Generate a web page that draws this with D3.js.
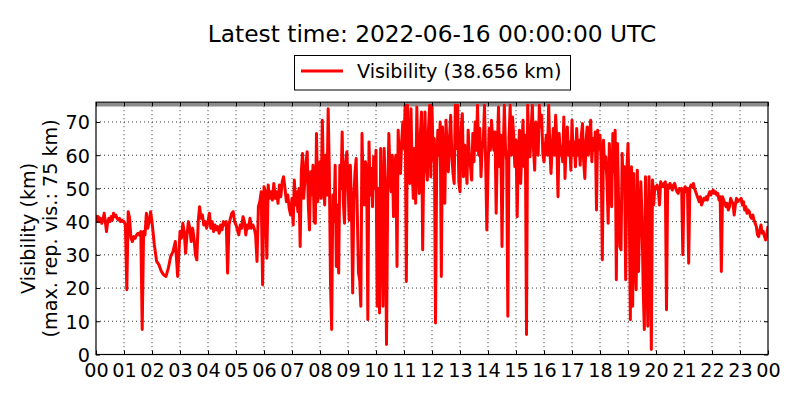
<!DOCTYPE html>
<html>
<head>
<meta charset="utf-8">
<script src="https://cdn.jsdelivr.net/npm/d3@7/dist/d3.min.js"></script>
<style>
	html, body { margin: 0; padding: 0; background: #fff; }
	svg { display: block; font-family: "DejaVu Sans", sans-serif; }
</style>
</head>
<body>
<div id="chart"></div>
<script>
// ---------------------------------------------------------------
// Data
// ---------------------------------------------------------------

const titleText = "Latest time: 2022-06-16 00:00:00 UTC";
const seriesName = "Visibility";
const latestVis = 38.656; // km, value at 24:00
const maxRepVis = 75; // km
const yTicks = [0, 10, 20, 30, 40, 50, 60, 70];
const hourTicks = d3.range(0, 25); // 00 .. 23, 00

// Visibility (km), one list per hour, samples evenly spaced within the hour
const visibilityByHour = [
	/* 00 */ [42, 40, 41.5, 40, 41, 39.5, 40.5, 42.5, 40, 37, 40, 41, 40, 41.5, 40.5, 42.5, 41.5, 42, 41, 40.5, 41, 40, 40.5, 40],
	/* 01 */ [40, 39, 19.5, 43, 41, 35, 34, 35.5, 35, 36, 36.5, 36, 37, 7.5, 37, 36, 42.5, 38, 40, 43],
	/* 02 */ [40, 33, 28, 27, 25, 24, 23.5, 26, 29.5, 31, 34, 23.5],
	/* 03 */ [37, 35, 39.5, 37, 30.5, 36, 40, 38, 34, 38, 35, 30, 28.5, 40, 44.5, 41, 42, 39, 40, 38],
	/* 04 */ [40, 42.5, 38, 40, 37, 39, 37.5, 38.5, 36.5, 39, 37.5, 40, 39, 40, 24.5, 39, 41, 42.5, 43, 40],
	/* 05 */ [39, 37.5, 36, 39, 38, 41.5, 40, 36, 39, 38, 41, 38, 39, 38, 36, 28, 44.5, 46, 49, 21],
	/* 06 */ [50.5, 49, 29, 51, 47, 49, 46.5, 51.5, 47, 49, 45.5, 51, 47.5, 52, 53.5, 50, 46, 48, 44, 42],
	/* 07 */ [47, 39, 52.5, 45, 49, 43, 50, 32.5, 55, 60.5, 47, 52, 58, 61, 45, 37.5, 55, 48, 57, 40, 39.5, 66.5, 46, 50],
	/* 08 */ [58, 47, 70.5, 52, 45, 60, 48, 74, 55, 21.5, 7.5, 48, 40, 57, 26.5, 45, 24.5, 57, 50, 67, 46, 39.5, 58, 61],
	/* 09 */ [52, 40.5, 57, 44, 18.5, 47, 55, 59, 42, 24.5, 22.5, 14.5, 66.5, 50, 45, 58, 55, 10.5, 64, 48, 56, 44.5, 59.5, 50],
	/* 10 */ [61.5, 14.5, 50, 12.5, 62, 45, 14.5, 62, 48, 3, 47, 66.5, 55, 49, 60, 41.5, 56.5, 60, 26.5, 67.5, 58, 54.5, 64, 70],
	/* 11 */ [62, 75, 22, 75, 60, 51.5, 74, 55, 47, 62, 45.5, 74.5, 58, 48.5, 66, 73, 31.5, 60, 73, 57, 52.5, 68, 75, 53.5],
	/* 12 */ [75, 58.5, 65, 9.5, 56, 67.5, 60, 70, 23.5, 68.5, 58, 45.5, 70.5, 62, 55, 65, 72, 60, 54.5, 51.5, 75, 62, 75, 52],
	/* 13 */ [49, 68, 72.5, 53.5, 63, 58, 51.5, 67.5, 60, 56.5, 52.5, 66.5, 58, 70, 61.5, 75, 60, 68, 53.5, 62, 64.5, 75, 58, 37.5],
	/* 14 */ [55, 68, 61.5, 70.5, 65, 61.5, 67, 42.5, 62, 74.5, 56.5, 66, 32.5, 60, 75, 62, 58.5, 11.5, 65, 75, 60, 71.5, 66, 56.5],
	/* 15 */ [64.5, 41.5, 60, 67.5, 51.5, 62, 70.5, 56.5, 66, 6, 75, 63, 59.5, 68, 75, 62, 55.5, 70, 64.5, 60, 75, 68.5, 72, 60.5],
	/* 16 */ [58, 62.5, 66, 60, 75, 62, 54.5, 62.5, 68, 60, 72, 64, 47.5, 66.5, 60, 62.5, 58, 71.5, 53, 63, 68.5, 60, 64, 55.5],
	/* 17 */ [70.5, 60, 64, 56.5, 68, 60, 64.5, 57, 66, 69.5, 58, 53, 64, 68.5, 60, 66, 70.5, 58, 65, 61.5, 67, 43.5, 67.5, 62],
	/* 18 */ [66, 58.5, 28.5, 64.5, 56, 59.5, 52, 39.5, 63.5, 50, 44.5, 66.5, 55, 67.5, 22.5, 63.5, 45, 32.5, 31.5, 60.5, 50, 56.5, 22.5, 55],
	/* 19 */ [63.5, 48, 10.5, 56.5, 14.5, 54.5, 30, 19.5, 55.5, 25, 40.5, 52, 41.5, 20, 7.5, 53.5, 30, 8.5, 53.5, 40, 1.5, 52.5, 45, 50.5],
	/* 20 */ [50, 51, 49.5, 45, 52, 51, 50.5, 51.5, 52, 13.5, 51, 50, 51.5, 50.5, 49.5, 51, 51.5, 50, 49, 48.5, 50, 49.5, 50, 30],
	/* 21 */ [49.5, 50.5, 49, 50, 27.5, 50, 51, 50.5, 51.5, 50, 49, 48, 47, 46, 47.5, 45, 46, 47, 46.5, 47.5, 46.5, 48, 49, 48],
	/* 22 */ [49, 49.5, 48.5, 49, 48, 48.5, 46.5, 47.5, 25, 47.5, 46.5, 45.5, 44.5, 45.5, 43.5, 44.5, 47, 46, 45.5, 42, 45, 47, 46, 46.5],
	/* 23 */ [46.5, 47, 45, 46, 43.5, 44.5, 42.5, 43.5, 43, 41.5, 41, 42, 40.5, 39.5, 38.5, 36, 35.5, 37.5, 39, 36.5, 37, 35.5, 34.5, 36],
];

// Flatten into {hour, vis} points
const points = [];
visibilityByHour.forEach((vals, h) => {
	vals.forEach((v, i) => points.push({ hour: h + i / vals.length, vis: v }));
});
points.push({ hour: 24, vis: latestVis });

// ---------------------------------------------------------------
// Layout
// ---------------------------------------------------------------

const W = 800;
const H = 400;
const plot = { left: 96, right: 768, top: 102.2, bottom: 354.5 };
const fontSize = 19.2;

const svg = d3
	.select("#chart")
	.append("svg")
	.attr("width", W)
	.attr("height", H);

const xScale = d3.scaleLinear().domain([0, 24]).range([plot.left, plot.right]);
const yScale = d3.scaleLinear().domain([0, 75.95]).range([plot.bottom, plot.top]);

const g = svg.append("g");

// Grid lines (dotted, classic style)
const grid = g.append("g").attr("class", "grid");
grid
	.selectAll("line.gx")
	.data(hourTicks.slice(1, -1))
	.join("line")
	.attr("x1", (d) => xScale(d))
	.attr("x2", (d) => xScale(d))
	.attr("y1", plot.top)
	.attr("y2", plot.bottom);
grid
	.selectAll("line.gy")
	.data(yTicks.slice(1))
	.join("line")
	.attr("x1", plot.left)
	.attr("x2", plot.right)
	.attr("y1", (d) => yScale(d))
	.attr("y2", (d) => yScale(d));
grid
	.selectAll("line")
	.style("stroke", "#000")
	.style("stroke-width", 0.8)
	.style("stroke-dasharray", "1,3");

// Max reported visibility line
g.append("line")
	.attr("x1", plot.left)
	.attr("x2", plot.right)
	.attr("y1", yScale(maxRepVis) - 0.6)
	.attr("y2", yScale(maxRepVis) - 0.6)
	.style("stroke", "#8c8c8c")
	.style("stroke-width", 3.6);

// Visibility line
const line = d3
	.line()
	.x((d) => xScale(d.hour))
	.y((d) => yScale(d.vis));

svg
	.append("clipPath")
	.attr("id", "clip")
	.append("rect")
	.attr("x", plot.left)
	.attr("y", plot.top)
	.attr("width", plot.right - plot.left)
	.attr("height", plot.bottom - plot.top);

g.append("path")
	.datum(points)
	.attr("clip-path", "url(#clip)")
	.attr("fill", "none")
	.attr("stroke", "#ff0000")
	.attr("stroke-width", 3)
	.attr("stroke-linejoin", "round")
	.attr("d", line);

// Axes: ticks pointing inwards on all four sides
const styleAxis = (gEl) => {
	gEl.select(".domain").remove();
	gEl.selectAll("line").style("stroke", "#000").style("stroke-width", 1);
	gEl
		.selectAll("text")
		.style("fill", "#000")
		.style("font-size", fontSize + "px")
		.style("font-family", "'DejaVu Sans', sans-serif");
};

g.append("g")
	.attr("transform", `translate(0,${plot.bottom})`)
	.call(
		d3
			.axisBottom(xScale)
			.tickValues(hourTicks)
			.tickSizeInner(-4)
			.tickSizeOuter(0)
			.tickPadding(8)
			.tickFormat((d) => d3.format("02d")(d % 24)),
	)
	.call(styleAxis)
	.call((gEl) => gEl.selectAll("text").attr("dy", "0.73em"));

g.append("g")
	.attr("transform", `translate(0,${plot.top})`)
	.call(d3.axisTop(xScale).tickValues(hourTicks).tickSizeInner(-4).tickSizeOuter(0).tickFormat(""))
	.call(styleAxis);

g.append("g")
	.attr("transform", `translate(${plot.left},0)`)
	.call(
		d3
			.axisLeft(yScale)
			.tickValues(yTicks)
			.tickSizeInner(-4)
			.tickSizeOuter(0)
			.tickPadding(6)
			.tickFormat(d3.format("d")),
	)
	.call(styleAxis)
	.call((gEl) => gEl.selectAll("text").attr("dy", "0.36em"));

g.append("g")
	.attr("transform", `translate(${plot.right},0)`)
	.call(d3.axisRight(yScale).tickValues(yTicks).tickSizeInner(-4).tickSizeOuter(0).tickFormat(""))
	.call(styleAxis);

// Plot frame
g.append("rect")
	.attr("x", plot.left)
	.attr("y", plot.top)
	.attr("width", plot.right - plot.left)
	.attr("height", plot.bottom - plot.top)
	.attr("fill", "none")
	.attr("stroke", "#000")
	.attr("stroke-width", 1.2);

// Y label (two lines)
const yMid = (plot.top + plot.bottom) / 2;
[["Visibility (km)", 35], [`(max. rep. vis.: ${maxRepVis} km)`, 57]].forEach(([txt, x]) => {
	svg
		.append("text")
		.attr("transform", `translate(${x},${yMid}) rotate(-90)`)
		.attr("text-anchor", "middle")
		.style("font-size", fontSize + "px")
		.text(txt);
});

// Title
svg
	.append("text")
	.attr("x", (plot.left + plot.right) / 2)
	.attr("y", 42.3)
	.attr("text-anchor", "middle")
	.style("font-size", "23.3px")
	.text(titleText);

// Legend
const legend = svg.append("g");
legend
	.append("rect")
	.attr("x", 294.5)
	.attr("y", 55.5)
	.attr("width", 276)
	.attr("height", 34.5)
	.attr("fill", "#fff")
	.attr("stroke", "#000")
	.attr("stroke-width", 1);
legend
	.append("line")
	.attr("x1", 301)
	.attr("x2", 343)
	.attr("y1", 71)
	.attr("y2", 71)
	.style("stroke", "#ff0000")
	.style("stroke-width", 2.8);
legend
	.append("text")
	.attr("x", 357)
	.attr("y", 78.3)
	.style("font-size", fontSize + "px")
	.text(`${seriesName} (${latestVis.toFixed(3)} km)`);
</script>
</body>
</html>
